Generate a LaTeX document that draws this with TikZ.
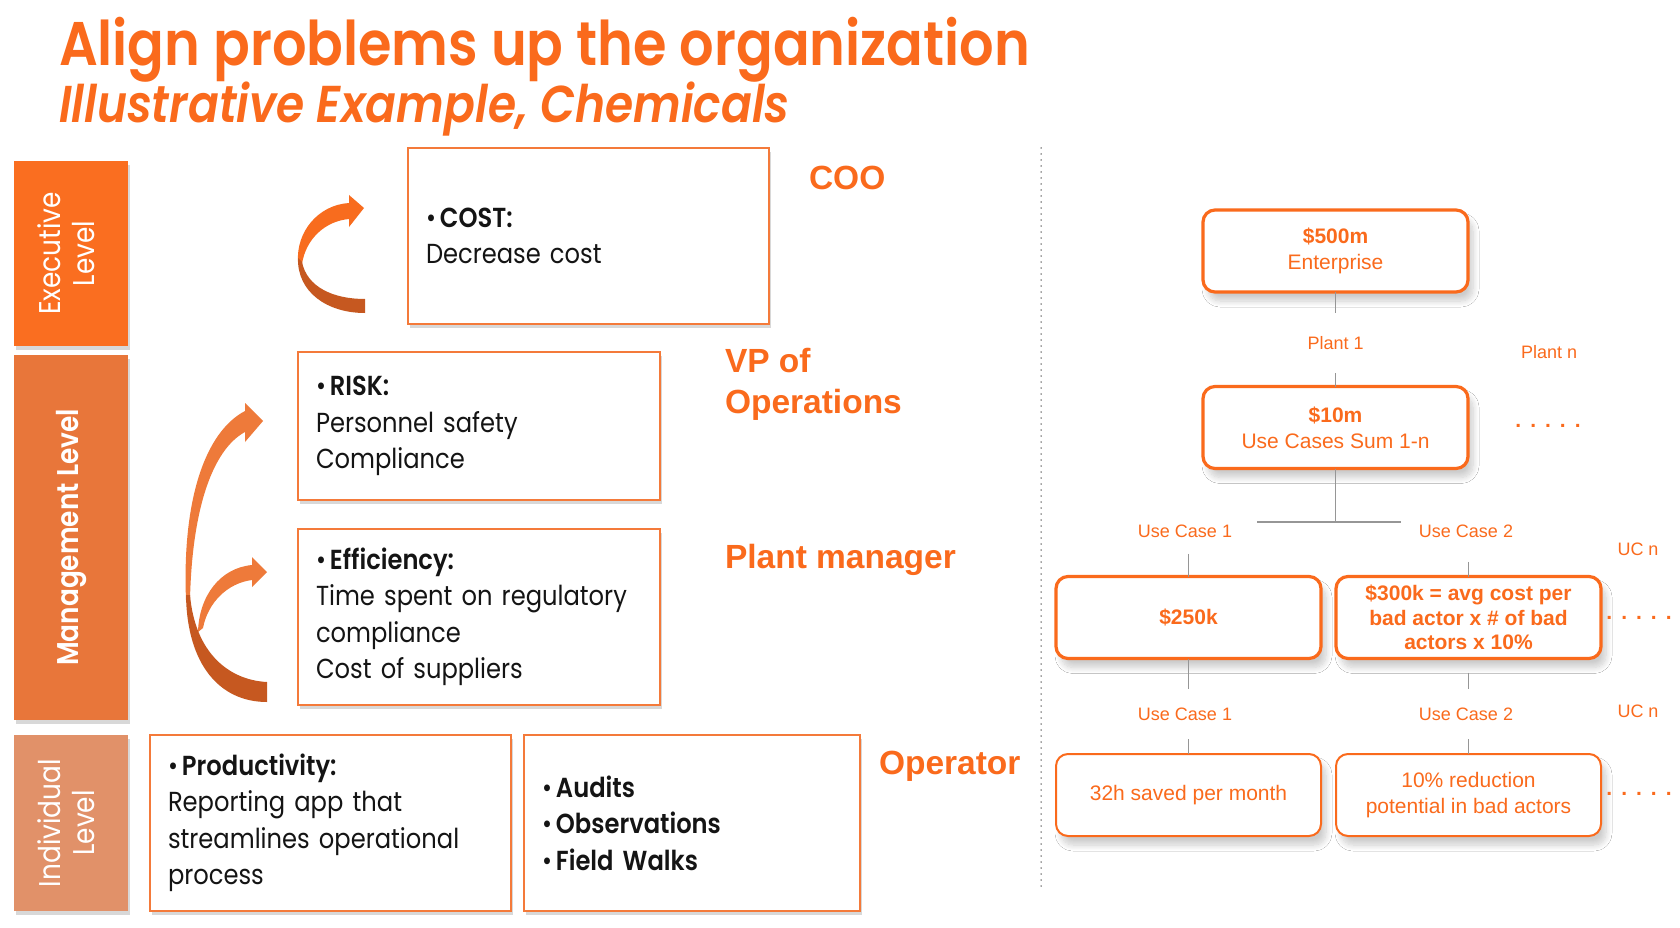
\documentclass[tikz,border=0pt]{standalone}
\usepackage{fontspec}
\setmainfont{Poppins}[FakeStretch=0.88,
  BoldFont={Poppins SemiBold},BoldItalicFont={Poppins SemiBold Italic}]
\newfontfamily\arialf{Liberation Sans}
\usetikzlibrary{shadows,shadows.blur}

\definecolor{brand}{RGB}{250,106,28}
\definecolor{boxline}{RGB}{244,122,58}
\definecolor{execfill}{RGB}{250,110,32}
\definecolor{mgmtfill}{RGB}{232,118,58}
\definecolor{indfill}{RGB}{225,145,105}
\definecolor{arrbright}{RGB}{248,108,30}
\definecolor{arrlight}{RGB}{238,122,58}
\definecolor{arrdark}{RGB}{198,88,32}
\definecolor{connector}{RGB}{150,150,150}
\definecolor{ink}{RGB}{20,20,20}

\newcommand\fsz[2]{\fontsize{#1pt}{#2pt}\selectfont}
\newcommand\rowdots{.\hskip9pt.\hskip9pt.\hskip9pt.\hskip9pt.}
\newcommand\bul{{\mdseries•}\hspace{4pt}}

\begin{document}
\begin{tikzpicture}[x=1pt,y=-1pt,
  every node/.style={inner sep=0pt,outer sep=0pt},
  levelbar/.style={minimum width=114pt,text=white,font=\fsz{30}{34},
    drop shadow={shadow xshift=2pt,shadow yshift=-4pt,opacity=.3}},
  goalbox/.style={draw=boxline,line width=1.6pt,fill=white,align=left,
    inner xsep=18pt,text=ink,font=\fsz{27.5}{36.5},
    drop shadow={shadow xshift=2pt,shadow yshift=-4pt,opacity=.3}},
  role/.style={anchor=west,text=brand,align=left,font=\arialf\bfseries\fsz{33.5}{41}},
  valbox/.style={rounded corners=12pt,draw=brand,line width=3.2pt,fill=white,
    text=brand,align=center,minimum width=265pt,minimum height=82pt,
    font=\arialf\fsz{21}{26},
    blur shadow={shadow xshift=5pt,shadow yshift=-9pt,shadow opacity=20,
      shadow blur radius=6pt,shadow blur steps=12}},
  metricbox/.style={valbox,line width=2pt},
  tag/.style={text=brand,font=\arialf\fsz{18}{22}},
  conn/.style={draw=connector,line width=1.6pt},
  dotsrow/.style={text=brand,font=\arialf\bfseries\fsz{21}{25}},
]
\path[use as bounding box,fill=white] (0,0) rectangle (1680,928);

% headings
\node[anchor=base west,text=brand,font=\bfseries\fsz{61.6}{70}] (title) at (59,66)
  {Align problems up the organization};
\node[anchor=base west,text=brand,font=\bfseries\itshape\fsz{51.8}{60}] (subtitle) at (59,123)
  {Illustrative Example, Chemicals};

% level bars
\node[levelbar,fill=execfill,minimum height=185pt] (lvlexec) at (71,253.5)
  {\rotatebox{90}{\begin{tabular}{@{}c@{}}Executive\\Level\end{tabular}}};
\node[levelbar,fill=mgmtfill,minimum height=365pt] (lvlmgmt) at (71,537.5)
  {\rotatebox{90}{\bfseries Management Level}};
\node[levelbar,fill=indfill,minimum height=176pt] (lvlind) at (71,823)
  {\rotatebox{90}{\begin{tabular}{@{}c@{}}Individual\\Level\end{tabular}}};

% curved ribbon arrows
\fill[arrbright] (298,262) .. controls (296,232) and (318,205) .. (349,203) -- (349,195)
  -- (364,208) -- (349,227) -- (349,219) .. controls (326,221) and (306,238) .. (302,264) -- cycle;
\fill[arrdark] (298,258) .. controls (297,292) and (327,313) .. (365,313) -- (365,299)
  .. controls (333,299) and (307,287) .. (302,262) -- cycle;

\fill[arrlight] (198,632) .. controls (199,596) and (220,568) .. (252,565) -- (252,557)
  -- (267,572) -- (252,587) -- (252,580) .. controls (228,583) and (208,602) .. (203,628) -- cycle;
\fill[arrlight] (186,600) .. controls (182,500) and (205,432) .. (245,411) -- (245,403)
  -- (263,421) -- (245,442) -- (245,432) .. controls (212,450) and (192,510) .. (190,600) -- cycle;
\fill[arrdark] (186,595) .. controls (187,665) and (220,702) .. (267,702) -- (267,682)
  .. controls (228,680) and (195,652) .. (190,595) -- cycle;

% goal boxes
\node[goalbox,text width=325pt,minimum height=176pt] (coo) at (588.5,236)
  {\bul\textbf{COST:}\\Decrease cost};
\node[goalbox,text width=326pt,minimum height=148pt] (risk) at (479,426)
  {\bul\textbf{RISK:}\\Personnel safety\\Compliance};
\node[goalbox,text width=326pt,minimum height=176pt] (eff) at (479,617)
  {\bul\textbf{Efficiency:}\\Time spent on regulatory\\compliance\\Cost of suppliers};
\node[goalbox,text width=325pt,minimum height=176pt] (prod) at (330.5,823)
  {\bul\textbf{Productivity:}\\Reporting app that\\streamlines operational\\process};
\node[goalbox,text width=300pt,minimum height=176pt] (aud) at (692,823)
  {\bul\textbf{Audits}\\\bul\textbf{Observations}\\\bul\textbf{Field Walks}};

% roles
\node[role] (coorole) at (809,178) {COO};
\node[role] (vprole) at (725,384.5) {VP of\\Operations};
\node[role] (pmrole) at (725,560) {Plant manager};
\node[role] (oprole) at (879,766) {Operator};

% separator
\draw[ink!80,line width=1.5pt,line cap=round,dash pattern=on 0pt off 6pt] (1041,148) -- (1041,887);

% value tree
\node[valbox] (ent) at (1335.5,251) {\textbf{\$500m}\\Enterprise};
\node[tag,inner ysep=23.5pt] (plant1) at (1335.5,343) {Plant 1};
\node[valbox] (sum) at (1335.5,427.5) {\textbf{\$10m}\\Use Cases Sum 1-n};
\node[tag] (plantn) at (1549,352) {Plant n};
\node[dotsrow] (dots1) at (1548,426) {\rowdots};
\coordinate (split) at (1335.5,522);
\coordinate (splitL) at (1257,522);
\coordinate (splitR) at (1401,522);

\node[tag,inner ysep=16.5pt] (uc1a) at (1185,531) {Use Case 1};
\node[tag,inner ysep=24.5pt] (uc2a) at (1466,531) {Use Case 2};
\node[tag] (ucna) at (1638,549) {UC n};
\node[valbox,font=\arialf\bfseries\fsz{21}{24.6}] (v250) at (1188.5,617.5) {\$250k};
\node[valbox,font=\arialf\bfseries\fsz{21}{24.6}] (v300) at (1468.5,617.5)
  {\$300k = avg cost per\\bad actor x \# of bad\\actors x 10\%};
\node[dotsrow] (dots2) at (1639,618) {\rowdots};

\node[tag,inner ysep=19pt] (uc1b) at (1185,714) {Use Case 1};
\node[tag,inner ysep=19pt] (uc2b) at (1466,714) {Use Case 2};
\node[tag] (ucnb) at (1638,711) {UC n};
\node[metricbox] (m32) at (1188.5,795) {32h saved per month};
\node[metricbox] (m10) at (1468.5,795) {10\% reduction\\potential in bad actors};
\node[dotsrow] (dots3) at (1639,794) {\rowdots};

\draw[conn] (ent.south) -- (plant1.north);
\draw[conn] (plant1.south) -- (sum.north);
\draw[conn] (sum.south) -- (split);
\draw[conn] (splitL) -- (splitR);
\draw[conn] (v250.north |- uc1a.south) -- (v250.north);
\draw[conn] (v300.north |- uc2a.south) -- (v300.north);
\draw[conn] (v250.south) -- (v250.south |- uc1b.north);
\draw[conn,shorten <=14pt] (v300.south) -- (v300.south |- uc2b.north);
\draw[conn] (v250.south |- uc1b.south) -- (m32.north);
\draw[conn] (v300.south |- uc2b.south) -- (m10.north);
\end{tikzpicture}
\end{document}
